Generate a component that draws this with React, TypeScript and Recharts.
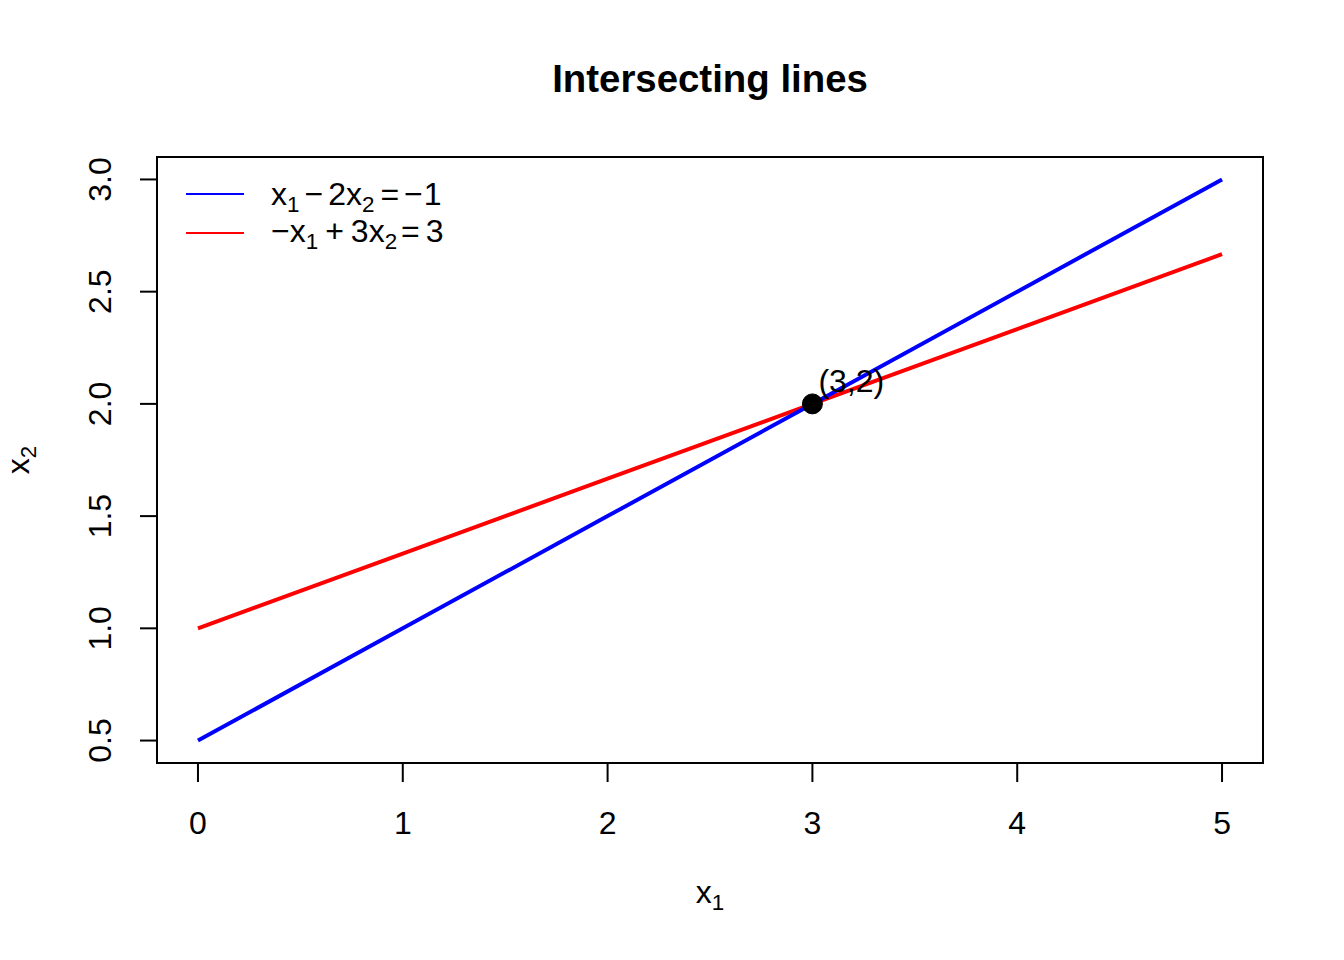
import { LineChart, Line, XAxis, YAxis, Legend, ReferenceArea, ReferenceDot } from 'recharts';

const x1Values = [0, 1, 2, 3, 4, 5];
const blueValues = [0.5, 1.0, 1.5, 2.0, 2.5, 3.0]; // x1 - 2x2 = -1
const redValues = [1.0, 1.333, 1.667, 2.0, 2.333, 2.667]; // -x1 + 3x2 = 3
const xTicks = [0, 1, 2, 3, 4, 5];
const yTicks = [0.5, 1.0, 1.5, 2.0, 2.5, 3.0];
const pointX = 3;
const pointY = 2;
const pointLabel = '(3,2)';
const chartTitle = 'Intersecting lines';

type Seg = { t: string; sub?: boolean; dx?: number };
const blueLabel: Seg[] = [
    { t: 'x' }, { t: '1', sub: true }, { t: '−', dx: 5 }, { t: '2', dx: 5 }, { t: 'x' }, { t: '2', sub: true },
    { t: '=', dx: 6 }, { t: '−', dx: 5 }, { t: '1', dx: 1 },
];
const redLabel: Seg[] = [
    { t: '−' }, { t: 'x' }, { t: '1', sub: true }, { t: '+', dx: 7 }, { t: '3', dx: 7 }, { t: 'x' }, { t: '2', sub: true },
    { t: '=', dx: 4 }, { t: '3', dx: 6 },
];
const xLabel: Seg[] = [{ t: 'x' }, { t: '1', sub: true }];
const yLabel: Seg[] = [{ t: 'x' }, { t: '2', sub: true }];

const data = x1Values.map((x, i) => ({ x, blue: blueValues[i], red: redValues[i] }));

const FONT = '"Liberation Sans", Arial, sans-serif';

function MathText({ segs, x, y, size = 32, anchor = 'start', transform }: any) {
    let shifted = false;
    return (
        <text x={x} y={y} fontSize={size} fontFamily={FONT} fill="#000" textAnchor={anchor} transform={transform}>
            {segs.map((s: Seg, i: number) => {
                let dy = 0;
                if (s.sub && !shifted) { dy = 7; shifted = true; }
                else if (!s.sub && shifted) { dy = -7; shifted = false; }
                return <tspan key={i} dx={s.dx || 0} dy={dy} fontSize={s.sub ? 22.4 : size}>{s.t}</tspan>;
            })}
        </text>
    );
}

const legendEntries = [{ key: 'blue', segs: blueLabel }, { key: 'red', segs: redLabel }];

function LegendBox({ payload }: any) {
    const colorOf = (k: string) => payload?.find((p: any) => p.dataKey === k)?.color ?? '#000';
    return (
        <svg width={320} height={110} style={{ display: 'block', overflow: 'visible' }}>
            {legendEntries.map((e, i) => (
                <g key={e.key}>
                    <line x1={29} x2={87} y1={37 + i * 39} y2={37 + i * 39} stroke={colorOf(e.key)} strokeWidth={2} />
                    <MathText segs={e.segs} x={114} y={48 + i * 37} />
                </g>
            ))}
        </svg>
    );
}

function XTick({ x, y, payload }: any) {
    return <text x={x} y={y + 52} textAnchor="middle" fontSize={32} fontFamily={FONT} fill="#000">{payload.value}</text>;
}

function YTick({ x, y, payload }: any) {
    const tx = x - 29;
    return (
        <text x={tx} y={y} transform={`rotate(-90, ${tx}, ${y})`} textAnchor="middle" fontSize={32} fontFamily={FONT} fill="#000">
            {Number(payload.value).toFixed(1)}
        </text>
    );
}

function DotLabel({ viewBox }: any) {
    const cx = viewBox.x + viewBox.width / 2;
    const cy = viewBox.y + viewBox.height / 2;
    return <text x={cx + 6} y={cy - 12} fontSize={32} fontFamily={FONT} fill="#000">{pointLabel}</text>;
}

export default function App() {
    return (
        <div style={{ position: 'absolute', left: 0, top: 0, width: 1344, height: 960, background: '#fff' }}>
            <LineChart width={1344} height={960} data={data} margin={{ top: 157, right: 81, left: 0, bottom: 0 }}>
                <XAxis type="number" dataKey="x" domain={[-0.2, 5.2]} ticks={xTicks} allowDataOverflow
                    height={197} axisLine={false} tickSize={19} tickMargin={0}
                    tickLine={{ stroke: '#000', strokeWidth: 2 }} tick={(p: any) => <XTick {...p} />} />
                <YAxis type="number" domain={[0.4, 3.1]} ticks={yTicks} allowDataOverflow
                    width={157} axisLine={false} tickSize={17} tickMargin={0}
                    tickLine={{ stroke: '#000', strokeWidth: 2 }} tick={(p: any) => <YTick {...p} />} />
                <ReferenceArea x1={-0.2} x2={5.2} y1={0.4} y2={3.1} fill="none" fillOpacity={0} stroke="#000" strokeWidth={2} />
                <Line type="linear" dataKey="red" stroke="#ff0000" strokeWidth={4} dot={false} isAnimationActive={false} />
                <Line type="linear" dataKey="blue" stroke="#0000ff" strokeWidth={4} dot={false} isAnimationActive={false} />
                <ReferenceDot x={pointX} y={pointY} r={10} fill="#000" stroke="#000" strokeWidth={1} label={(p: any) => <DotLabel {...p} />} />
                <Legend layout="vertical" align="center" verticalAlign="middle" content={(p: any) => <LegendBox {...p} />}
                    wrapperStyle={{ left: 157, top: 157, width: 320, height: 110 }} />
                <text x={710} y={92} textAnchor="middle" fontSize={38.4} fontWeight="bold" fontFamily={FONT} fill="#000">{chartTitle}</text>
                <MathText segs={xLabel} x={710} y={903} anchor="middle" />
                <MathText segs={yLabel} x={29} y={460} anchor="middle" transform="rotate(-90, 29, 460)" />
            </LineChart>
        </div>
    );
}
